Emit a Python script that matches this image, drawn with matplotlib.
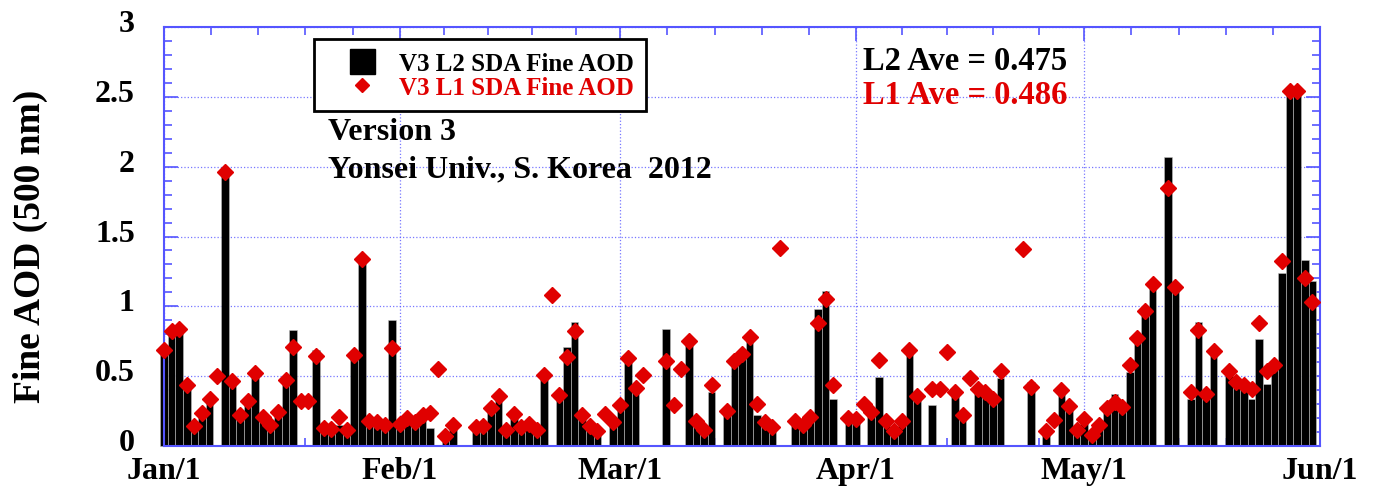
import numpy as np
import matplotlib
matplotlib.use('Agg')
import matplotlib.pyplot as plt
import matplotlib.dates as mdates
import matplotlib.transforms as mtransforms
from matplotlib.lines import Line2D

nan = np.nan

# daily values, Jan 1 to May 31 2012
days = np.arange('2012-01-01', '2012-06-01', dtype='datetime64[D]')

l2_fine = [
    0.68, 0.81, 0.81, 0.45, 0.13, 0.22, 0.34, nan, 1.97, 0.44,   # Jan 1-10
    0.22, 0.31, 0.51, 0.20, 0.13, 0.22, 0.45, 0.83, nan, nan,    # Jan 11-20
    0.685, 0.12, 0.10, 0.15, 0.10, 0.66, 1.35, 0.17, 0.18, 0.15,  # Jan 21-30
    0.90, 0.15, 0.18, 0.17, 0.20, 0.13, nan, 0.07, 0.13, nan,    # Jan 31-Feb 9
    nan, 0.13, 0.15, 0.26, 0.34, 0.11, 0.22, 0.13, 0.15, 0.11,   # Feb 10-19
    0.50, nan, 0.37, 0.71, 0.89, 0.20, 0.14, 0.10, nan, 0.15,    # Feb 20-29
    0.27, 0.63, 0.44, nan, nan, nan, 0.835, nan, nan, 0.75,      # Mar 1-10
    0.16, 0.10, 0.39, nan, 0.23, 0.60, 0.64, 0.775, 0.22, 0.15,  # Mar 11-20
    0.12, nan, nan, 0.16, 0.15, 0.18, 0.98, 1.11, 0.34, nan,     # Mar 21-30
    0.18, 0.18, nan, 0.22, 0.494, 0.15, 0.10, 0.15, 0.70, 0.33,  # Mar 31-Apr 9
    nan, 0.29, nan, nan, 0.374, 0.20, nan, 0.38, 0.36, 0.32,     # Apr 10-19
    0.487, nan, nan, nan, 0.458, nan, 0.10, nan, 0.41, 0.28,     # Apr 20-29
    0.10, 0.17, 0.07, 0.15, 0.26, 0.374, 0.30, 0.53, 0.76, 0.96, # Apr 30-May 9
    1.165, nan, 2.07, 1.12, nan, 0.338, 0.89, 0.34, 0.71, nan,   # May 10-19
    0.53, 0.45, 0.42, 0.34, 0.763, 0.446, 0.55, 1.237, 2.53, 2.53,  # May 20-29
    1.333, 1.18,                                                 # May 30-31
]

l1_fine = [
    0.69, 0.82, 0.84, 0.44, 0.14, 0.235, 0.34, 0.50, 1.96, 0.465,
    0.225, 0.32, 0.52, 0.21, 0.15, 0.24, 0.475, 0.71, 0.325, 0.325,
    0.645, 0.13, 0.12, 0.205, 0.115, 0.655, 1.34, 0.18, 0.17, 0.15,
    0.70, 0.16, 0.20, 0.17, 0.22, 0.235, 0.55, 0.07, 0.15, nan,
    nan, 0.135, 0.146, 0.27, 0.357, 0.115, 0.23, 0.135, 0.16, 0.115,
    0.51, 1.08, 0.367, 0.64, 0.825, 0.225, 0.14, 0.11, 0.23, 0.17,
    0.29, 0.63, 0.417, 0.506, nan, nan, 0.61, 0.295, 0.55, 0.75,
    0.178, 0.115, 0.44, nan, 0.25, 0.61, 0.657, 0.78, 0.30, 0.175,
    0.135, 1.417, nan, 0.18, 0.15, 0.205, 0.878, 1.05, 0.434, nan,
    0.20, 0.19, 0.30, 0.24, 0.614, 0.178, 0.11, 0.178, 0.69, 0.355,
    nan, 0.405, 0.41, 0.67, 0.39, 0.225, 0.487, 0.405, 0.39, 0.333,
    0.535, nan, nan, 1.41, 0.42, nan, 0.11, 0.187, 0.40, 0.285,
    0.115, 0.19, 0.08, 0.15, 0.27, 0.314, 0.278, 0.578, 0.77, 0.97,
    1.16, nan, 1.844, 1.135, nan, 0.386, 0.83, 0.374, 0.68, nan,
    0.54, 0.458, 0.434, 0.405, 0.878, 0.54, 0.578, 1.326, 2.545, 2.54,
    1.2, 1.034,
]

month_starts = np.array(['2012-01-01', '2012-02-01', '2012-03-01',
                         '2012-04-01', '2012-05-01', '2012-06-01'],
                        dtype='datetime64[D]')
month_labels = ['Jan/1', 'Feb/1', 'Mar/1', 'Apr/1', 'May/1', 'Jun/1']
y_ticks = [0, 0.5, 1, 1.5, 2, 2.5, 3]
y_ticklabels = ['0', '0.5', '1', '1.5', '2', '2.5', '3']

red = '#e00000'
blue = '#5555ff'
serif = 'Liberation Serif'

x = mdates.date2num(days)
xm = mdates.date2num(month_starts)

fig = plt.figure(figsize=(13.76, 4.89), dpi=100)
ax = fig.add_axes([164 / 1376, 1 - 447 / 489, 1156 / 1376, 419 / 489])

# data
ax.bar(x, l2_fine, width=1.0, color='black', edgecolor='0.75',
       linewidth=0.4, zorder=2, clip_on=False)
ax.plot(x, l1_fine, ls='none', marker='D', ms=8, color=red, mec=red,
        zorder=3, clip_on=False)

# axes properties
ax.set_xlim(xm[0], xm[-1])
ax.set_ylim(0, 3)
ax.set_xticks(xm)
ax.set_xticklabels(month_labels)
minor = np.concatenate([np.linspace(a, b, 6)[1:-1]
                        for a, b in zip(xm[:-1], xm[1:])])
ax.set_xticks(minor, minor=True)
ax.set_yticks(y_ticks)
ax.set_yticklabels(y_ticklabels)
ax.set_yticks(np.arange(0, 3.01, 0.1), minor=True)
ax.tick_params(which='both', direction='in', top=True, right=True,
               color=blue, width=1.2)
ax.tick_params(which='major', length=10)
ax.tick_params(which='minor', length=6)
ax.tick_params(axis='y', pad=21)
ax.tick_params(axis='x', pad=7)
shift = mtransforms.ScaledTranslation(0, 5 / 72, fig.dpi_scale_trans)
for lab in ax.get_xticklabels() + ax.get_yticklabels():
    lab.set_fontfamily(serif)
    lab.set_fontweight('bold')
    lab.set_fontsize(23)
for lab in ax.get_yticklabels():
    lab.set_transform(lab.get_transform() + shift)
for spine in ax.spines.values():
    spine.set_color(blue)
    spine.set_linewidth(1.5)
ax.set_axisbelow(True)
ax.grid(True, which='major', color=blue, ls=':', lw=0.9, alpha=0.8)
ax.set_ylabel('Fine AOD (500 nm)', family=serif, weight='bold', fontsize=27)
ax.yaxis.set_label_coords(-0.1, 0.48)

# legend
handles = [Line2D([], [], ls='none', marker='s', ms=18, color='black'),
           Line2D([], [], ls='none', marker='D', ms=7, color=red)]
leg = ax.legend(handles, ['V3 L2 SDA Fine AOD', 'V3 L1 SDA Fine AOD'],
                loc='upper left', bbox_to_anchor=(150 / 1156, 407 / 419),
                borderaxespad=0, frameon=True, fancybox=False,
                framealpha=1, edgecolor='black', borderpad=0.5,
                handlelength=2.8, handletextpad=0.1, labelspacing=0.05,
                prop=dict(family=serif, weight='bold', size=18))
leg.get_frame().set_linewidth(2)
leg.get_texts()[1].set_color(red)

# annotations
txt = dict(family=serif, weight='bold', va='center')
fig.text(328 / 1376, 1 - 133 / 489, 'Version 3', fontsize=23, **txt)
fig.text(328 / 1376, 1 - 170 / 489, 'Yonsei Univ., S. Korea  2012',
         fontsize=23, **txt)
fig.text(863 / 1376, 1 - 62 / 489, 'L2 Ave = 0.475', fontsize=23.5, **txt)
fig.text(863 / 1376, 1 - 95 / 489, 'L1 Ave = 0.486', fontsize=23.5,
         color=red, **txt)

fig.savefig('out.png', dpi=100)
